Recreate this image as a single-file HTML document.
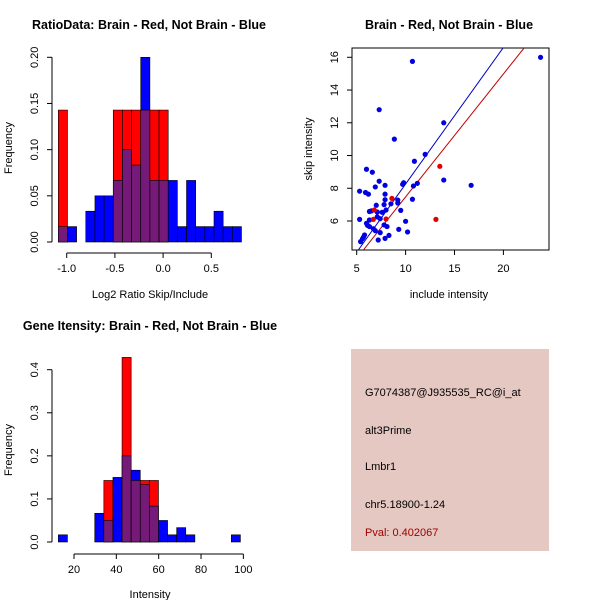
<!DOCTYPE html>
<html><head><meta charset="utf-8"><style>
html,body{margin:0;padding:0;background:#fff;}
svg{display:block;font-family:"Liberation Sans",sans-serif;}
</style></head><body>
<svg id="c" width="600" height="600" xmlns="http://www.w3.org/2000/svg">
<rect x="0" y="0" width="600" height="600" fill="#fff"/>
<text x="149" y="29" font-size="12.5" font-weight="bold" text-anchor="middle">RatioData: Brain - Red, Not Brain - Blue</text>
<text x="449" y="29" font-size="12.5" font-weight="bold" text-anchor="middle">Brain - Red, Not Brain - Blue</text>
<text x="150" y="330" font-size="12.5" font-weight="bold" text-anchor="middle">Gene Itensity: Brain - Red, Not Brain - Blue</text>
<text x="150" y="298" font-size="11" text-anchor="middle">Log2 Ratio Skip/Include</text>
<text transform="translate(12,148) rotate(-90)" font-size="11" text-anchor="middle">Frequency</text>
<text x="449" y="298" font-size="11" text-anchor="middle">include intensity</text>
<text transform="translate(312,149) rotate(-90)" font-size="11" text-anchor="middle">skip intensity</text>
<text x="150" y="598" font-size="11" text-anchor="middle">Intensity</text>
<text transform="translate(12,450) rotate(-90)" font-size="11" text-anchor="middle">Frequency</text>
<g>
<rect x="351" y="349" width="198" height="202" fill="#e5c8c2"/>
<text x="365" y="396" font-size="11">G7074387@J935535_RC@i_at</text>
<text x="365" y="434" font-size="11">alt3Prime</text>
<text x="365" y="470" font-size="11">Lmbr1</text>
<text x="365" y="508" font-size="11">chr5.18900-1.24</text>
<text x="365" y="536" font-size="11" fill="#a00000">Pval: 0.402067</text>
</g>
<g id="g1"></g><g id="g2"></g><g id="g3"></g>
</svg>
<script>
// Ratio histogram data (bins start at -1.087, width 0.095)
const ratioBlue = [1,1,0,2,3,3,4,6,5,12,4,4,4,1,4,1,1,2,1,1].map(v=>v/60);
const ratioRed  = [1,0,0,0,0,0,1,1,1,1,1,1,0,0,0,0,0,0,0,0].map(v=>v/7);
const ratioXTicks = [-1.0,-0.5,0.0,0.5];
const ratioYTicks = [0.00,0.05,0.10,0.15,0.20];
// Intensity histogram (bins start at 12.6, width 4.3)
const intBlue = [1,0,0,0,4,3,9,12,10,8,5,3,1,2,1,0,0,0,0,1].map(v=>v/60);
const intRed  = [0,0,0,0,0,1,0,3,1,1,1,0,0,0,0,0,0,0,0,0].map(v=>v/7);
const intXTicks = [20,40,60,80,100];
const intYTicks = [0.0,0.1,0.2,0.3,0.4];
// Scatter data
const blueX = [23.8,10.7,7.3,13.9,8.85,12.0,10.9,6.0,6.6,7.3,13.9,16.7,9.8,9.7,11.2,10.8,5.3,6.9,7.9,5.9,6.2,7.9,7.9,9.2,9.2,8.5,10.7,7.8,7.0,8.0,9.5,6.3,6.5,7.1,7.6,5.3,6.0,6.1,6.3,6.7,7.1,7.4,7.8,8.1,6.9,7.4,10.0,9.3,10.2,5.8,5.7,5.6,5.4,7.2,7.9,8.3,6.3];
const blueY = [16.0,15.75,12.8,12.0,11.0,10.07,9.65,9.16,8.98,8.43,8.5,8.18,8.34,8.24,8.3,8.14,7.82,8.08,8.18,7.74,7.64,7.64,7.3,7.28,7.1,7.05,7.33,7.0,6.96,6.67,6.65,6.58,6.62,6.55,6.53,6.1,5.86,5.74,5.66,5.53,6.25,6.14,5.76,5.66,5.41,5.29,5.98,5.49,5.33,5.15,5.02,4.92,4.74,4.84,4.94,5.12,6.06];
const redX = [6.7,6.8,8.0,8.6,13.5,13.1];
const redY = [6.1,6.67,6.12,7.38,9.34,6.1];
const fitBlue = [-0.08,0.834]; // intercept, slope
const fitRed = [-0.04,0.751];
const scXTicks = [5,10,15,20];
const scYTicks = [6,8,10,12,14,16];

const NS="http://www.w3.org/2000/svg";
function mk(parent,tag,attrs){const e=document.createElementNS(NS,tag);for(const k in attrs)e.setAttribute(k,attrs[k]);parent.appendChild(e);return e;}
const PURPLE="#751a78";

function hist(g,name,start,width,blue,red,xs,ys,xt,yt,yFmt){
  for(let i=0;i<blue.length;i++){
    const b=blue[i], r=red[i];
    const x0=xs(start+i*width), x1=xs(start+(i+1)*width);
    const hi=Math.max(b,r), lo=Math.min(b,r);
    if(hi>0){
      const el=mk(g,'rect',{x:x0,y:ys(hi),width:x1-x0,height:ys(0)-ys(hi),fill:b>=r?'#0000ff':'#ff0000',stroke:'#000','stroke-width':0.6});
      
      
    }
    if(lo>0){
      const el=mk(g,'rect',{x:x0,y:ys(lo),width:x1-x0,height:ys(0)-ys(lo),fill:PURPLE,stroke:'#000','stroke-width':0.6});
      
      
    }
  }
  const xa=mk(g,'line',{x1:xs(xt[0]),x2:xs(xt[xt.length-1]),y1:253,y2:253,stroke:'#000'});
  
  
  xt.forEach(v=>{
    mk(g,'line',{x1:xs(v),x2:xs(v),y1:253,y2:258,stroke:'#000'});
    const t=mk(g,'text',{x:xs(v),y:272,'font-size':11,'text-anchor':'middle'});
    t.textContent=(Number.isInteger(v)&&Math.abs(v)>=20?String(v):v.toFixed(1));
    
    
  });
  const ya=mk(g,'line',{x1:52,x2:52,y1:ys(yt[0]),y2:ys(yt[yt.length-1]),stroke:'#000'});
  
  
  yt.forEach(v=>{
    mk(g,'line',{x1:47,x2:52,y1:ys(v),y2:ys(v),stroke:'#000'});
    const t=mk(g,'text',{'font-size':11,'text-anchor':'middle',transform:`translate(38,${ys(v)}) rotate(-90)`});
    t.textContent=yFmt(v);
    
    
  });
}
{
  const g=document.getElementById('g1');
  const xs=v=>66.7+(v+1)*96.4;
  const ys=v=>242-v*(242-57.3)/0.2;
  hist(g,'ratio-hist',-1.087,0.095,ratioBlue,ratioRed,xs,ys,ratioXTicks,ratioYTicks,v=>v.toFixed(2));
}
{
  const g=document.getElementById('g3');
  g.setAttribute('transform','translate(0,301)');
  const xs=v=>74+(v-20)*2.117;
  const ys=v=>(542-301)-v*(542-369.7)/0.4;
  hist(g,'intensity-hist',12.6,4.3,intBlue,intRed,xs,ys,intXTicks,intYTicks,v=>v.toFixed(1));
}
{
  const g=document.getElementById('g2');
  const xs=v=>356.7+(v-5)*9.78;
  const ys=v=>57.3-(v-16)*16.37;
  const cp=document.createElementNS(NS,'clipPath');cp.setAttribute('id','clipS');
  mk(cp,'rect',{x:352,y:48,width:197,height:202});g.appendChild(cp);
  const box=mk(g,'rect',{x:352,y:48,width:197,height:202,fill:'none',stroke:'#000'});
  
  
  [[fitBlue,'#0000c0','blue-fit-line'],[fitRed,'#c00000','red-fit-line']].forEach(([f,c,n])=>{
    const x0=4,x1=26;
    const l=mk(g,'line',{x1:xs(x0),y1:ys(f[0]+f[1]*x0),x2:xs(x1),y2:ys(f[0]+f[1]*x1),stroke:c,'stroke-width':1,'clip-path':'url(#clipS)'});
    
    
  });
  blueX.forEach((x,i)=>{
    const p=mk(g,'circle',{cx:xs(x),cy:ys(blueY[i]),r:2.6,fill:'#0000e0'});
    
    
  });
  redX.forEach((x,i)=>{
    const p=mk(g,'circle',{cx:xs(x),cy:ys(redY[i]),r:2.6,fill:'#e00000'});
    
    
  });
  scXTicks.forEach(v=>{
    mk(g,'line',{x1:xs(v),x2:xs(v),y1:250,y2:255,stroke:'#000'});
    const t=mk(g,'text',{x:xs(v),y:272,'font-size':11,'text-anchor':'middle'});
    t.textContent=v;
    
    
  });
  scYTicks.forEach(v=>{
    mk(g,'line',{x1:347,x2:352,y1:ys(v),y2:ys(v),stroke:'#000'});
    const t=mk(g,'text',{'font-size':11,'text-anchor':'middle',transform:`translate(338,${ys(v)}) rotate(-90)`});
    t.textContent=v;
    
    
  });
}
</script>
</body></html>
